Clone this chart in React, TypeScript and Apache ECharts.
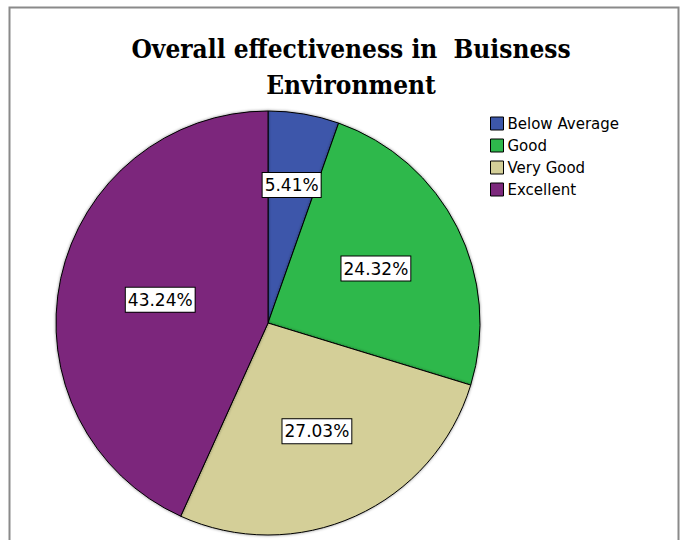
import React, { useEffect, useRef } from "react";
import * as echarts from "echarts";

const TITLE = "Overall effectiveness in  Buisness\nEnvironment";
const categories = ["Below Average", "Good", "Very Good", "Excellent"];
const counts = [2, 9, 10, 16];
const colors = ["#3D57AA", "#2EB84C", "#D4CF98", "#7C287C"];
// label distance from centre as fraction of radius (placement style)
const labelRadiusRatio = [0.66, 0.57, 0.56, 0.52];

const CX = 268;
const CY = 323;
const R = 212;

export default function App() {
  const ref = useRef<HTMLDivElement>(null);
  useEffect(() => {
    document.body.style.margin = "0";
    if (!ref.current) return;
    const chart = echarts.init(ref.current, null, { renderer: "svg" });
    const total = counts.reduce((a, b) => a + b, 0);
    chart.setOption({
      animation: false,
      backgroundColor: "#ffffff",
      graphic: [
        {
          type: "rect",
          shape: { x: 9.5, y: 7.5, width: 669, height: 560 },
          style: { fill: "none", stroke: "#8a8a8a", lineWidth: 2 },
          silent: true,
        },
      ],
      title: {
        text: TITLE,
        left: 346,
        textAlign: "center",
        top: 26,
        textStyle: {
          fontFamily: "DejaVu Serif Condensed",
          fontWeight: "bold",
          fontSize: 26,
          lineHeight: 36,
          color: "#000",
        },
      },
      legend: {
        orient: "vertical",
        left: 485,
        top: 111,
        itemWidth: 13,
        itemHeight: 13,
        itemGap: 7,
        icon: "rect",
        selectedMode: false,
        data: categories,
        itemStyle: { borderColor: "#000", borderWidth: 1 },
        textStyle: {
          fontFamily: "DejaVu Sans",
          fontSize: 15,
          color: "#000",
          padding: [0, 0, 0, -1],
        },
      },
      series: [
        {
          type: "pie",
          center: [CX, CY],
          radius: R,
          startAngle: 90,
          clockwise: true,
          avoidLabelOverlap: false,
          labelLine: { show: false },
          itemStyle: {
            borderColor: "#000",
            borderWidth: 1,
            shadowBlur: 3,
            shadowColor: "rgba(0,0,0,0.45)",
          },
          label: {
            show: true,
            position: "inside",
            formatter: (p: any) => ((p.value / total) * 100).toFixed(2) + "%",
            fontFamily: "DejaVu Sans",
            fontSize: 17,
            color: "#000",
            backgroundColor: "#fff",
            borderColor: "#000",
            borderWidth: 1,
            padding: [4, 2, 3, 2],
          },
          labelLayout: (params: any) => {
            const r = params.labelRect;
            const lx = r.x + r.width / 2;
            const ly = r.y + r.height / 2;
            const dx = lx - CX;
            const dy = ly - CY;
            const d = Math.sqrt(dx * dx + dy * dy) || 1;
            const target = labelRadiusRatio[params.dataIndex] * R;
            return {
              x: CX + (dx / d) * target,
              y: CY + (dy / d) * target,
            };
          },
          data: categories.map((name, i) => ({
            name,
            value: counts[i],
            itemStyle: { color: colors[i] },
          })),
        },
      ],
    });
    return () => chart.dispose();
  }, []);
  return <div ref={ref} style={{ width: 682, height: 540 }} />;
}
